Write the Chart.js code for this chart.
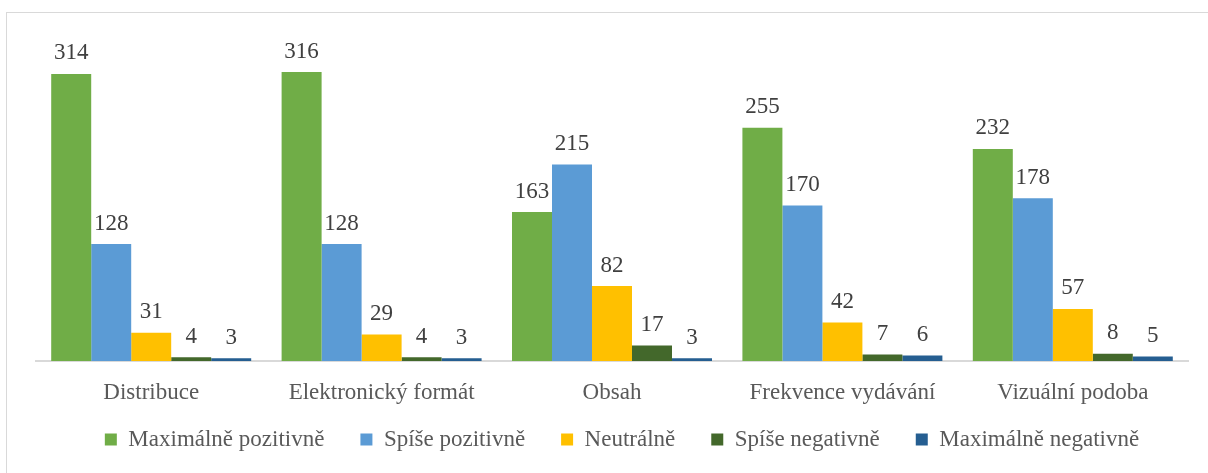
<!DOCTYPE html>
<html>
<head>
<meta charset="utf-8">
<script src="https://cdn.jsdelivr.net/npm/chart.js@4"></script>
<style>
  html, body { margin: 0; padding: 0; background: #fff; overflow: hidden; }
  #frame { position: absolute; left: 6px; top: 12px; width: 1220px; height: 480px; border: 1px solid #d9d9d9; }
  #chart { position: absolute; left: 0; top: 0; }
</style>
</head>
<body>
<div id="frame"></div>
<canvas id="chart" width="1208" height="473"></canvas>
<script>
// categories and series
const categories = ['Distribuce', 'Elektronický formát', 'Obsah', 'Frekvence vydávání', 'Vizuální podoba'];
const maxPozitivne = [314, 316, 163, 255, 232];
const spisePozitivne = [128, 128, 215, 170, 178];
const neutralne = [31, 29, 82, 42, 57];
const spiseNegativne = [4, 4, 17, 7, 8];
const maxNegativne = [3, 3, 3, 6, 5];

const seriesNames = ['Maximálně pozitivně', 'Spíše pozitivně', 'Neutrálně', 'Spíše negativně', 'Maximálně negativně'];
const seriesColors = ['#70AD47', '#5B9BD5', '#FFC000', '#43682B', '#255E91'];
const seriesData = [maxPozitivne, spisePozitivne, neutralne, spiseNegativne, maxNegativne];

const fontFamily = '"Liberation Serif", "Times New Roman", serif';

// draws value above each bar
const valueLabels = {
  id: 'valueLabels',
  afterDatasetsDraw(chart) {
    const ctx = chart.ctx;
    ctx.save();
    ctx.font = '23px ' + fontFamily;
    ctx.fillStyle = '#404040';
    ctx.textAlign = 'center';
    ctx.textBaseline = 'bottom';
    chart.data.datasets.forEach((ds, i) => {
      chart.getDatasetMeta(i).data.forEach((bar, j) => {
        ctx.fillText(ds.data[j], bar.x, bar.y - 9);
      });
    });
    ctx.restore();
  }
};

// x labels run into the legend's top padding: don't clip them, nudge legend right
const layoutTweak = {
  id: 'layoutTweak',
  afterLayout(chart) {
    chart.scales.x.bottom = chart.height;
    chart.legend.left += 10;
    chart.legend.right += 10;
  }
};

new Chart(document.getElementById('chart'), {
  type: 'bar',
  data: {
    labels: categories,
    datasets: seriesNames.map((name, i) => ({
      label: name,
      data: seriesData[i],
      backgroundColor: seriesColors[i],
      borderWidth: 0,
      barPercentage: 1,
      categoryPercentage: 0.868
    }))
  },
  options: {
    responsive: false,
    animation: false,
    devicePixelRatio: 1,
    layout: { padding: { left: 36, right: 20, top: 41, bottom: 12 } },
    plugins: {
      legend: {
        position: 'bottom',
        labels: {
          font: { family: fontFamily, size: 23 },
          color: '#595959',
          boxWidth: 12,
          boxHeight: 12,
          padding: 36
        }
      },
      tooltip: { enabled: false }
    },
    scales: {
      x: {
        grid: { display: false },
        border: { color: '#d9d9d9', width: 2 },
        ticks: { font: { family: fontFamily, size: 23 }, color: '#595959', padding: 10 },
        afterFit: (scale) => { scale.height = 31; }
      },
      y: {
        display: false,
        min: 0,
        max: 350
      }
    }
  },
  plugins: [valueLabels, layoutTweak]
});
</script>
</body>
</html>
